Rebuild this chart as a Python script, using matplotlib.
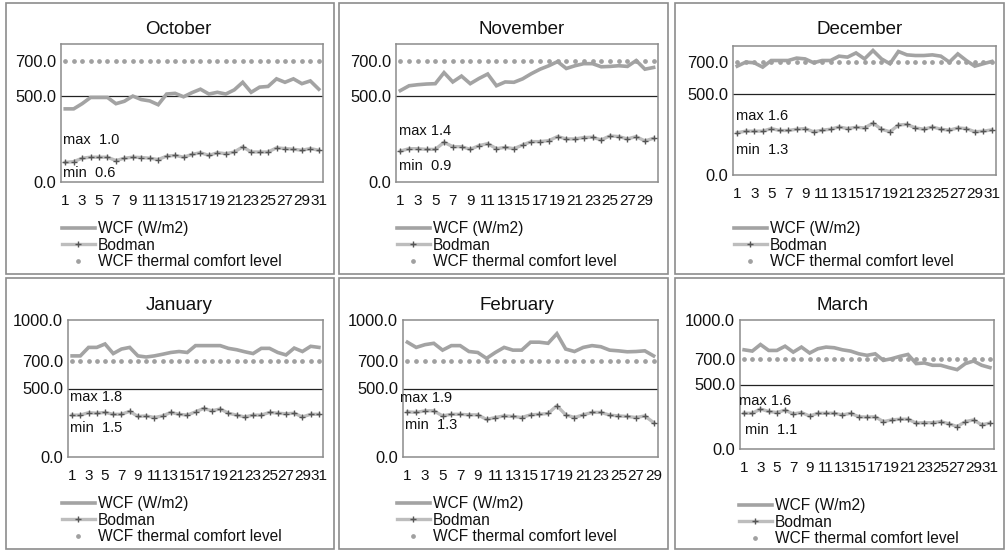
import matplotlib
matplotlib.use("Agg")
import matplotlib.pyplot as plt
from matplotlib.patches import Rectangle

plt.rcParams['font.family'] = ['Liberation Sans', 'DejaVu Sans']

W, H = 1007, 550

months = ["October", "November", "December", "January", "February", "March"]

# Daily wind chill factor (W/m2)
wcf_oct = [424, 424, 454, 490, 490, 490, 454, 468, 498, 478, 470, 448, 510, 514, 494, 518,
           538, 510, 520, 510, 534, 578, 520, 550, 554, 598, 578, 598, 570, 586, 538]
wcf_nov = [530, 558, 564, 568, 570, 634, 580, 614, 570, 600, 626, 558, 580, 578, 598, 628,
           654, 674, 698, 658, 674, 686, 686, 668, 670, 674, 670, 704, 654, 664]
wcf_dec = [675, 700, 696, 669, 710, 710, 710, 725, 720, 696, 710, 710, 737, 731, 757, 720,
           772, 720, 690, 766, 745, 741, 741, 745, 737, 700, 751, 710, 675, 690, 704]
wcf_jan = [738, 738, 800, 800, 825, 755, 788, 800, 738, 730, 738, 750, 763, 770, 763, 813,
           813, 813, 813, 793, 783, 768, 755, 793, 793, 763, 745, 795, 770, 808, 800]
wcf_feb = [838, 800, 820, 830, 780, 813, 813, 770, 763, 720, 763, 800, 780, 780, 838, 838,
           830, 900, 788, 770, 800, 813, 805, 780, 775, 768, 770, 775, 738]
wcf_mar = [769, 759, 810, 764, 764, 797, 751, 790, 744, 777, 790, 785, 769, 759, 738, 726,
           738, 687, 700, 718, 733, 662, 667, 649, 649, 631, 615, 662, 682, 649, 631]

# Daily Bodman index
bod_oct = [0.57, 0.59, 0.69, 0.72, 0.72, 0.72, 0.62, 0.69, 0.72, 0.71, 0.69, 0.65, 0.75, 0.77,
           0.72, 0.80, 0.85, 0.77, 0.85, 0.82, 0.87, 1.02, 0.87, 0.87, 0.87, 0.99, 0.97, 0.95,
           0.92, 0.97, 0.92]
bod_nov = [0.92, 0.99, 0.99, 0.97, 0.97, 1.18, 1.05, 1.05, 0.97, 1.08, 1.14, 0.99, 1.03, 0.99,
           1.10, 1.20, 1.20, 1.23, 1.35, 1.28, 1.28, 1.32, 1.33, 1.25, 1.37, 1.35, 1.28, 1.35,
           1.22, 1.30]
bod_dec = [1.31, 1.36, 1.36, 1.36, 1.44, 1.38, 1.38, 1.42, 1.44, 1.34, 1.39, 1.42, 1.49, 1.44,
           1.48, 1.46, 1.61, 1.42, 1.34, 1.55, 1.57, 1.46, 1.42, 1.49, 1.42, 1.39, 1.46, 1.44,
           1.34, 1.36, 1.40]
bod_jan = [1.56, 1.56, 1.65, 1.63, 1.66, 1.59, 1.59, 1.70, 1.51, 1.53, 1.47, 1.53, 1.66, 1.59,
           1.56, 1.68, 1.81, 1.72, 1.79, 1.63, 1.56, 1.49, 1.56, 1.56, 1.66, 1.63, 1.61, 1.63,
           1.49, 1.59, 1.59]
bod_feb = [1.68, 1.66, 1.72, 1.72, 1.53, 1.59, 1.59, 1.57, 1.57, 1.40, 1.47, 1.53, 1.51, 1.47,
           1.57, 1.59, 1.62, 1.91, 1.57, 1.47, 1.57, 1.66, 1.66, 1.56, 1.53, 1.51, 1.47, 1.53,
           1.28]
bod_mar = [1.48, 1.48, 1.60, 1.53, 1.50, 1.57, 1.46, 1.50, 1.40, 1.48, 1.48, 1.48, 1.43, 1.48,
           1.38, 1.37, 1.38, 1.24, 1.29, 1.31, 1.31, 1.20, 1.21, 1.21, 1.24, 1.18, 1.10, 1.24,
           1.29, 1.15, 1.20]

comfort_level = 700.0
wcf_ticks_autumn = [0, 500, 700]
wcf_ticks_winter = [0, 500, 700, 1000]

wcf_series = [wcf_oct, wcf_nov, wcf_dec, wcf_jan, wcf_feb, wcf_mar]
bod_series = [bod_oct, bod_nov, bod_dec, bod_jan, bod_feb, bod_mar]
wcf_ticks = [wcf_ticks_autumn] * 3 + [wcf_ticks_winter] * 3
wcf_top = [800, 800, 800, 1000, 1000, 1000]
# range of the hidden secondary (Bodman) axis in each panel
bod_limits = [(0, 4.0), (0, 4.10), (0, 4.0), (0, 5.10), (0, 5.10), (0.46, 4.14)]
max_prefix = ["max  ", "max ", "max ", "max ", "max ", "max "]

# layout in pixels: (left, top, right, bottom)
axes_px = [(61, 44, 323, 182), (396, 44, 658, 182), (733, 46, 996, 175),
           (68, 320, 323, 457), (403, 320, 658, 457), (740, 320, 994, 449)]
panel_px = [(6, 3, 334, 274), (339, 3, 668, 274), (675, 3, 1004, 274),
            (6, 278, 334, 549), (339, 278, 668, 549), (675, 278, 1004, 549)]
title_px = [(178, 30), (522, 30), (860, 30), (179, 305), (517, 305), (843, 305)]
max_px = [(63, 140), (399, 131), (736, 116), (70, 397), (400, 398), (739, 401)]
min_px = [(63, 173), (399, 166), (736, 150), (70, 428), (405, 425), (745, 430)]
legend_px = [(62, 221), (397, 221), (734, 221), (62, 496), (397, 496), (739, 498)]


def fx(x):
    return x / W


def fy(y):
    return 1 - y / H


fig = plt.figure(figsize=(W / 100, H / 100), dpi=100)
fig.patch.set_facecolor("white")

WCF_COLOR = "#a3a3a3"
BOD_LINE = "#bdbdbd"
BOD_MARK = "#555555"
DOT_COLOR = "#a0a0a0"
BORDER = "#8c8c8c"

for i, month in enumerate(months):
    # panel frame
    l, t, r, b = panel_px[i]
    fig.add_artist(Rectangle((fx(l), fy(b)), fx(r) - fx(l), fy(t) - fy(b),
                             transform=fig.transFigure, fill=False,
                             edgecolor=BORDER, linewidth=1.2))

    l, t, r, b = axes_px[i]
    ax = fig.add_axes([fx(l), fy(b), fx(r) - fx(l), fy(t) - fy(b)])
    wcf = wcf_series[i]
    bod = bod_series[i]
    days = list(range(1, len(wcf) + 1))

    ax.set_xlim(0.5, len(days) + 0.5)
    ax.set_ylim(0, wcf_top[i])
    ax.axhline(500, color="#222222", linewidth=0.9, zorder=1)

    h_wcf, = ax.plot(days, wcf, color=WCF_COLOR, linewidth=2.6, zorder=3,
                     solid_joinstyle="miter", label="WCF (W/m2)")
    h_dot, = ax.plot(days, [comfort_level] * len(days), linestyle="none",
                     marker="o", markersize=2.4, color=DOT_COLOR, zorder=4,
                     label="WCF thermal comfort level")

    ax2 = ax.twinx()
    ax2.set_ylim(*bod_limits[i])
    ax2.set_axis_off()
    h_bod, = ax2.plot(days, bod, color=BOD_LINE, linewidth=2.4, marker="+",
                      markersize=4.5, markeredgewidth=1.0, markeredgecolor=BOD_MARK,
                      zorder=3, label="Bodman")

    ax.set_xticks(days[::2])
    ax.set_xticklabels([str(d) for d in days[::2]])
    ax.set_yticks(wcf_ticks[i])
    ax.set_yticklabels([f"{v:.1f}" for v in wcf_ticks[i]])
    ax.tick_params(axis="x", length=0, pad=8.5, labelsize=11, colors="#111111")
    ax.tick_params(axis="y", length=0, pad=3.5, labelsize=11.8, colors="#111111")
    for sp in ax.spines.values():
        sp.set_color(BORDER)
        sp.set_linewidth(1.1)

    fig.text(fx(title_px[i][0]), fy(title_px[i][1]), month, ha="center",
             va="center", fontsize=13.5, color="#111111")
    fig.text(fx(max_px[i][0]), fy(max_px[i][1]), f"{max_prefix[i]}{max(bod):.1f}",
             ha="left", va="center", fontsize=10.5, color="#111111")
    fig.text(fx(min_px[i][0]), fy(min_px[i][1]), f"min  {min(bod):.1f}",
             ha="left", va="center", fontsize=10.5, color="#111111")

    leg = ax.legend([h_wcf, h_bod, h_dot],
                    ["WCF (W/m2)", "Bodman", "WCF thermal comfort level"],
                    loc="upper left",
                    bbox_to_anchor=(fx(legend_px[i][0]), fy(legend_px[i][1])),
                    bbox_transform=fig.transFigure, frameon=False, fontsize=11.2,
                    handlelength=2.1, handletextpad=0.2, labelspacing=0.1,
                    borderpad=0, borderaxespad=0, numpoints=1)
    for txt in leg.get_texts():
        txt.set_color("#111111")

fig.savefig("out.png", dpi=100, facecolor="white")
